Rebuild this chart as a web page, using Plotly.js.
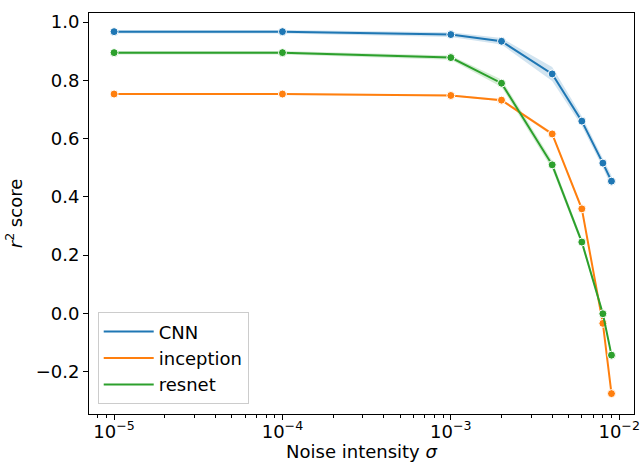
<!DOCTYPE html>
<html><head><meta charset="utf-8">
<script src="https://cdn.plot.ly/plotly-3.0.1.min.js"></script>
<style>html,body{margin:0;padding:0;background:#fff}#chart{width:642px;height:462px}</style>
</head><body><div id="chart"></div>
<script>
const sigma = [1e-5, 1e-4, 1e-3, 2e-3, 4e-3, 6e-3, 8e-3, 9e-3];
const seriesNames = ['CNN', 'inception', 'resnet'];
const cnn       = [0.967, 0.967, 0.957, 0.934, 0.822, 0.660, 0.516, 0.454];
const cnnLow    = [0.961, 0.961, 0.949, 0.923, 0.798, 0.643, 0.500, 0.435];
const cnnHigh   = [0.973, 0.973, 0.965, 0.945, 0.846, 0.677, 0.532, 0.473];
const inception = [0.753, 0.753, 0.748, 0.732, 0.616, 0.359, -0.034, -0.275];
const incLow    = [0.750, 0.750, 0.745, 0.728, 0.610, 0.352, -0.040, -0.282];
const incHigh   = [0.756, 0.756, 0.751, 0.736, 0.622, 0.366, -0.028, -0.268];
const resnet    = [0.895, 0.895, 0.878, 0.790, 0.510, 0.245, -0.001, -0.143];
const resLow    = [0.889, 0.889, 0.871, 0.777, 0.496, 0.234, -0.010, -0.152];
const resHigh   = [0.901, 0.901, 0.885, 0.803, 0.524, 0.256, 0.008, -0.134];
const xTickVals = [1e-5, 1e-4, 1e-3, 1e-2];
const xTickText = ['10<sup>−5</sup>', '10<sup>−4</sup>', '10<sup>−3</sup>', '10<sup>−2</sup>'];
const yTickVals = [-0.2, 0, 0.2, 0.4, 0.6, 0.8, 1.0];
const yTickText = ['−0.2', '0.0', '0.2', '0.4', '0.6', '0.8', '1.0'];

const colors = ['#1f77b4', '#ff7f0e', '#2ca02c'];
const fills = ['rgba(31,119,180,0.2)', 'rgba(255,127,14,0.2)', 'rgba(44,160,44,0.2)'];
const vals = [cnn, inception, resnet];
const lows = [cnnLow, incLow, resLow];
const highs = [cnnHigh, incHigh, resHigh];

const traces = [];
for (let i = 0; i < 3; i++) {
  traces.push({x: sigma, y: lows[i], mode: 'lines', line: {width: 0, color: colors[i]}, showlegend: false, hoverinfo: 'skip'});
  traces.push({x: sigma, y: highs[i], mode: 'lines', line: {width: 0, color: colors[i]}, fill: 'tonexty', fillcolor: fills[i], showlegend: false, hoverinfo: 'skip'});
}
for (let i = 0; i < 3; i++) {
  traces.push({x: sigma, y: vals[i], name: seriesNames[i], mode: 'lines', line: {color: colors[i], width: 2}});
  traces.push({x: sigma, y: vals[i], mode: 'markers', showlegend: false,
    marker: {color: colors[i], size: 8, line: {color: '#fff', width: 1}}});
}

const minorVals = [];
for (let e = -6; e <= -2; e++) for (let m = 2; m <= 9; m++) minorVals.push(m * Math.pow(10, e));

const font = {family: 'DejaVu Sans', size: 18, color: '#000'};
const layout = {
  width: 642, height: 462,
  margin: {l: 89, r: 8, t: 13, b: 48, pad: 0},
  paper_bgcolor: '#fff', plot_bgcolor: '#fff',
  font: font,
  showlegend: true,
  legend: {x: 0.016, y: 0.024, xanchor: 'left', yanchor: 'bottom', traceorder: 'normal',
    bgcolor: 'rgba(255,255,255,0.8)', bordercolor: '#cccccc', borderwidth: 1, itemwidth: 50,
    font: {family: 'DejaVu Sans', size: 18, color: '#000'}, tracegroupgap: 0},
  xaxis: {
    type: 'log', range: [-5.149, -1.912],
    showgrid: false, zeroline: false, showline: true, linecolor: '#000', linewidth: 1, mirror: true,
    ticks: 'outside', ticklen: 5, tickwidth: 1, tickcolor: '#000', ticklabelstandoff: -4,
    tickvals: xTickVals, ticktext: xTickText, tickfont: font,
    minor: {tickvals: minorVals, ticks: 'outside', ticklen: 3, tickcolor: '#000', tickwidth: 1, showgrid: false},
    title: {text: 'Noise intensity <i>σ</i>', font: font, standoff: 4}
  },
  yaxis: {
    range: [-0.345, 1.031],
    showgrid: false, zeroline: false, showline: true, linecolor: '#000', linewidth: 1, mirror: true,
    ticks: 'outside', ticklen: 5, tickwidth: 1, tickcolor: '#000',
    tickvals: yTickVals, ticktext: yTickText, tickfont: font,
    title: {text: '<i>r</i><sup>2</sup> score', font: font, standoff: 8}
  }
};
Plotly.newPlot('chart', traces, layout, {staticPlot: true});
</script></body></html>
